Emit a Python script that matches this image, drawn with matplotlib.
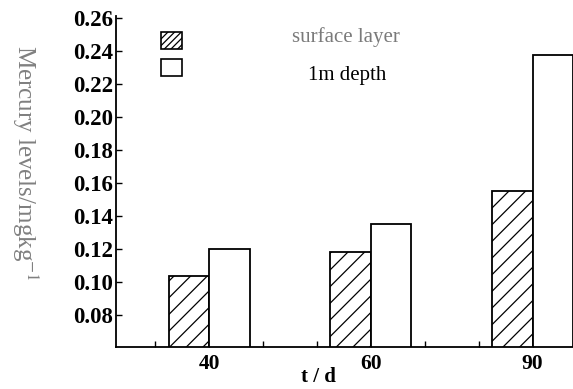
import matplotlib
matplotlib.use("Agg")
import matplotlib.pyplot as plt
from matplotlib.patches import Rectangle
import numpy as np

plt.rcParams['font.family'] = ['Liberation Serif', 'DejaVu Serif']
plt.rcParams['mathtext.fontset'] = 'stix'
plt.rcParams['hatch.linewidth'] = 0.9

# -------------------------
# DATA
# -------------------------
days = ["40", "60", "90"]
surface = [0.104, 0.118, 0.155]
depth_1m = [0.120, 0.135, 0.238]
yticks = [0.08, 0.10, 0.12, 0.14, 0.16, 0.18, 0.20, 0.22, 0.24, 0.26]

# -------------------------
# PLOT
# -------------------------
fig = plt.figure(figsize=(5.73, 3.89), dpi=100)
ax = fig.add_axes([0.2024, 0.1087, 0.7976, 0.850])

x = np.arange(len(days))
w = 0.25
ax.bar(x - w / 2, surface, w, color='white', edgecolor='black',
       linewidth=1.3, hatch='//', zorder=2)
ax.bar(x + w / 2, depth_1m, w, color='white', edgecolor='black',
       linewidth=1.3, zorder=2)

ax.set_xlim(-0.576, 2.25)
ax.set_ylim(0.0608, 0.2614)
ax.set_yticks(yticks)
ax.set_yticklabels([f"{v:.2f}" for v in yticks], fontweight='bold', fontsize=16.5)
ax.set_xticks(x)
ax.set_xticklabels(days, fontweight='bold', fontsize=15.5)
ax.set_xticks([-1/3, 1/3, 2/3, 4/3, 5/3], minor=True)

ax.tick_params(axis='y', direction='in', length=4, width=1, pad=2)
ax.tick_params(axis='x', which='both', direction='in', length=4, width=1, pad=5)
for s in ['top', 'right']:
    ax.spines[s].set_visible(False)
for s in ['left', 'bottom']:
    ax.spines[s].set_linewidth(1.3)

# legend boxes and labels
fig.patches.append(Rectangle((0.281, 0.874), 0.037, 0.044, transform=fig.transFigure,
                             facecolor='white', edgecolor='black', linewidth=1.2,
                             hatch='/////', figure=fig))
fig.patches.append(Rectangle((0.281, 0.805), 0.037, 0.044, transform=fig.transFigure,
                             facecolor='white', edgecolor='black', linewidth=1.2,
                             figure=fig))
fig.text(0.604, 0.905, "surface layer", color='#7a7a7a', fontsize=15,
         ha='center', va='center')
fig.text(0.606, 0.806, "1m depth", color='black', fontsize=15,
         ha='center', va='center')

fig.text(0.0436, 0.58, "Mercury levels/mgkg$^{-1}$", color='#808080', fontsize=18,
         rotation=270, ha='center', va='center')
fig.text(0.555, 0.004, "t / d", fontweight='bold', fontsize=15, ha='center',
         va='bottom')

plt.savefig("out.png", dpi=100)
